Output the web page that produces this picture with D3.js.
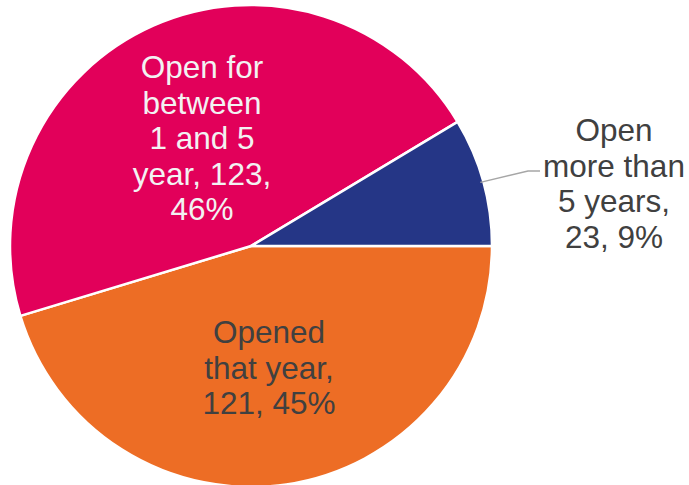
<!DOCTYPE html>
<html>
<head>
<meta charset="utf-8">
<script src="https://cdn.jsdelivr.net/npm/d3@7"></script>
<style>
  body { margin: 0; background: #fff; }
  svg { display: block; font-family: "Liberation Sans", Arial, sans-serif; }
</style>
</head>
<body>
<svg id="chart" width="689" height="485"></svg>
<script>
// slices, in drawing order starting at 3 o'clock going clockwise
const categories = ["Opened that year", "Open for between 1 and 5 year", "Open more than 5 years"];
const values = [121, 123, 23];
const percents = ["45%", "46%", "9%"];
const labelLines = [
    ["Opened", "that year,", "121, 45%"],
    ["Open for", "between", "1 and 5", "year, 123,", "46%"],
    ["Open", "more than", "5 years,", "23, 9%"]
];
const colors = ["#ED6D25", "#E2005A", "#253686"];
const textColors = ["#404040", "#F2F2F2", "#404040"];

const svg = d3.select("#chart");
const cx = 251, cy = 246, radius = 241;

const pie = d3.pie()
    .sort(null)
    .value(d => d)
    .startAngle(Math.PI / 2)
    .endAngle(Math.PI / 2 + 2 * Math.PI);

const arc = d3.arc().innerRadius(0).outerRadius(radius);

const g = svg.append("g").attr("transform", `translate(${cx},${cy})`);

const arcs = pie(values);

g.selectAll("path")
    .data(arcs)
    .enter().append("path")
    .attr("d", arc)
    .attr("fill", (d, i) => colors[i])
    .attr("stroke", "#fff")
    .attr("stroke-width", 2.5)
    .attr("stroke-linejoin", "round");

// label positions (first baseline), relative to the pie centre
const labelPos = [
    { x: 18, y: 97 },
    { x: -49, y: -168 },
    { x: 363, y: -105 }
];
const lineHeight = 35.5;

labelLines.forEach((lines, i) => {
    const t = g.append("text")
        .attr("text-anchor", "middle")
        .attr("fill", textColors[i])
        .style("font-size", "31.5px");
    lines.forEach((line, j) => {
        t.append("tspan")
            .attr("x", labelPos[i].x)
            .attr("y", labelPos[i].y + j * lineHeight)
            .text(line);
    });
});

// leader line for the small slice
const small = arcs[2];
const mid = (small.startAngle + small.endAngle) / 2;
const p0 = [Math.sin(mid) * (radius - 3), -Math.cos(mid) * (radius - 3)];
g.append("polyline")
    .attr("points", [p0, [277, -75], [289, -75]].map(p => p.join(",")).join(" "))
    .attr("fill", "none")
    .attr("stroke", "#A6A6A6")
    .attr("stroke-width", 1.5);
</script>
</body>
</html>
